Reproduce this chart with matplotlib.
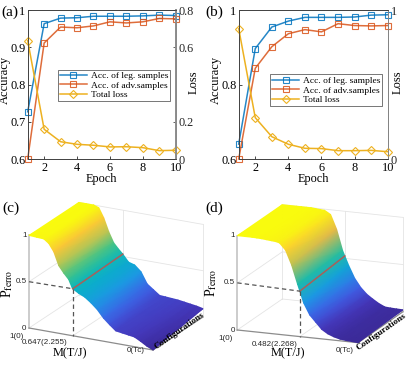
import numpy as np
import matplotlib
matplotlib.use("Agg")
import matplotlib.pyplot as plt
from matplotlib.colors import LinearSegmentedColormap

SERIF = "Liberation Serif"
SANS = "Liberation Sans"
W, H = 407, 365

epochs = [1, 2, 3, 4, 5, 6, 7, 8, 9, 10]

acc_leg_a = [0.727, 0.964, 0.979, 0.980, 0.984, 0.984, 0.984, 0.985, 0.987, 0.986]
acc_adv_a = [0.600, 0.912, 0.955, 0.953, 0.958, 0.969, 0.966, 0.969, 0.978, 0.977]
loss_a = [0.637, 0.160, 0.093, 0.079, 0.074, 0.065, 0.066, 0.061, 0.045, 0.047]

acc_leg_b = [0.640, 0.897, 0.955, 0.971, 0.981, 0.981, 0.981, 0.982, 0.987, 0.988]
acc_adv_b = [0.600, 0.844, 0.902, 0.937, 0.948, 0.942, 0.964, 0.959, 0.958, 0.959]
loss_b = [0.877, 0.278, 0.150, 0.099, 0.072, 0.070, 0.056, 0.056, 0.058, 0.049]

# surface profiles: position along M axis (0 at M=1, 1 at M=0), first/last configuration
m_pos = [0, .06, .12, .16, .2, .24, .28, .32, .35, .4, .45, .5, .55, .6, .65, .7, .75, .8, .85, .9, .95, 1]
front_c = [1, .995, .99, .95, .87, .73, .66, .6, .51, .47, .44, .39, .33, .25, .19, .135, .125, .115, .105, .07, .03, 0]
back_c = [1, 1, 1, .98, .88, .74, .63, .57, .53, .45, .43, .37, .25, .2, .15, .145, .14, .135, .125, .115, .105, .09]
front_d = [1, 1, 1, .998, .995, .99, .985, .98, .97, .9, .75, .55, .36, .24, .17, .1, .06, .035, .018, .01, .005, 0]
back_d = [1, 1, 1, 1, 1, 1, .995, .99, .988, .95, .8, .58, .43, .3, .21, .145, .1, .06, .03, .025, .022, .02]

BLUE = "#0072bd"
ORANGE = "#d95319"
YELLOW = "#edb120"

surf_cmap = LinearSegmentedColormap.from_list("surf", [
    (0.00, "#3b2a98"), (0.10, "#4436b8"), (0.22, "#3f5fe6"), (0.36, "#1e96e6"),
    (0.50, "#06b4c4"), (0.62, "#3cc38a"), (0.72, "#a5c85a"), (0.82, "#f5b445"),
    (0.90, "#fbd030"), (1.00, "#f9fb0e"),
])


def px_axes(fig, left, top, right, bottom):
    return fig.add_axes([left / W, 1 - bottom / H, (right - left) / W, (bottom - top) / H])


def line_panel(fig, box, leg, adv, loss, yticks, lticks, lmax, legend_at, tag, tag_x, label_x, right_lw):
    ax = px_axes(fig, *box)
    ax.plot(epochs, leg, color=BLUE, lw=1.1, marker="s", ms=4, mfc="none", mew=0.8, alpha=0.85, clip_on=False,
            label="Acc. of leg. samples")
    ax.plot(epochs, adv, color=ORANGE, lw=1.1, marker="s", ms=4, mfc="none", mew=0.8, alpha=0.85, clip_on=False,
            label="Acc. of adv.samples")
    ax.set_xlim(1, 10)
    ax.set_ylim(0.6, 1)
    ax.set_xticks([2, 4, 6, 8, 10])
    ax.set_yticks(yticks)
    ax.set_yticklabels([f"{t:g}" for t in yticks])
    ax.tick_params(direction="in", length=2, width=0.5, labelsize=8.8, pad=1.5)
    ax.tick_params(axis="x", pad=2)
    for lab in ax.get_xticklabels() + ax.get_yticklabels():
        lab.set_family(SERIF)

    ax2 = ax.twinx()
    ax2.plot(epochs, loss, color=YELLOW, lw=1.1, marker="D", ms=3.6, mfc="none", mew=0.8, clip_on=False,
             label="Total loss")
    ax2.set_ylim(0, lmax)
    ax2.set_yticks(lticks)
    ax2.set_yticklabels([f"{t:g}" for t in lticks])
    ax2.tick_params(direction="in", length=2, width=0.5, labelsize=8.8, pad=2, colors="#262626")
    for lab in ax2.get_yticklabels():
        lab.set_family(SERIF)
    for a in (ax, ax2):
        for s in a.spines.values():
            s.set_linewidth(0.6)
            s.set_color("#404040")
    ax2.spines["right"].set_linewidth(right_lw)
    ax2.spines["right"].set_color("#8c8c8c")

    handles = ax.get_lines()[:2] + ax2.get_lines()[:1]
    ax2.legend(handles, [h.get_label() for h in handles], loc="lower left", bbox_to_anchor=legend_at,
               bbox_transform=fig.transFigure, prop={"family": SERIF, "size": 6.8},
               frameon=True, fancybox=False, framealpha=1, edgecolor="#404040", borderpad=0.2,
               labelspacing=0.1, handlelength=2.9, handletextpad=0.4, borderaxespad=0).get_frame().set_linewidth(0.5)
    fig.text(tag_x / W, 1 - 12.5 / H, tag, fontsize=11, family=SERIF, ha="left", va="center")
    # axis labels sit closer to the ticks than matplotlib would put them
    mid = (box[0] + box[2]) / 2
    fig.text(label_x[0] / W, 1 - 80 / H, "Accuracy", fontsize=9, family=SERIF, rotation=90, ha="center", va="center")
    fig.text(label_x[1] / W, 1 - 82 / H, "Loss", fontsize=9, family=SERIF, rotation=90, ha="center", va="center")
    fig.text(mid / W, 1 - 179 / H, "Epoch", fontsize=8.8, family=SERIF, ha="center", va="center")


def surface_panel(ax, origin, u, v, w, front, back, m_mark, m_label, tag, tag_xy, labels):
    origin, u, v, w = map(np.asarray, (origin, u, v, w))

    def proj(m, c, p):
        return origin + m * u + c * v + p * w

    def seg(a, b, **kw):
        pa, pb = proj(*a), proj(*b)
        ax.plot([pa[0], pb[0]], [pa[1], pb[1]], **kw)

    grid = dict(color="#e4e4e4", lw=0.6, zorder=1)
    # box edges and grid
    seg((1, 1, 0), (1, 1, 1), **grid)
    seg((m_mark, 1, 0), (m_mark, 1, 1), **grid)
    seg((1, 1, 0.5), (0, 1, 0.5), **grid)
    seg((0, 1, 1), (1, 1, 1), **grid)
    seg((0, 1, 0), (0, 0, 0), **grid)
    seg((0, 1, 0), (0, 1, 1), **grid)
    seg((0, 1, 0), (1, 1, 0), **grid)
    seg((m_mark, 0, 0), (m_mark, 1, 0), **grid)
    seg((0, 0, 0.5), (0, 1, 0.5), **grid)
    seg((0, 0, 0), (0, 0, 1), color="#c4c4c4", lw=1.2, zorder=1.5)
    seg((0, 0, 0), (1, 0, 0), color="#8c8c8c", lw=0.9, zorder=1.5)
    seg((1, 0, 0), (1, 1, 0), color="#8c8c8c", lw=0.9, zorder=1.5)

    mm = np.array(m_pos)
    P = np.array([front, back], dtype=float)
    M = np.vstack([mm, mm])
    C = np.vstack([np.zeros_like(mm), np.ones_like(mm)])
    XY = origin + M[..., None] * u + C[..., None] * v + P[..., None] * w
    ax.pcolormesh(XY[..., 0], XY[..., 1], P, cmap=surf_cmap, vmin=0, vmax=1, shading="gouraud", zorder=2)

    pf = np.interp(m_mark, mm, front)
    pb = np.interp(m_mark, mm, back)
    seg((m_mark, 0, pf), (m_mark, 1, pb), color="#a8605a", lw=1.1, zorder=3)
    dash = dict(color="#555555", lw=0.9, ls=(0, (3.5, 2.5)), zorder=3)
    seg((0, 0, 0.5), (m_mark, 0, pf), **dash)
    seg((m_mark, 0, pf), (m_mark, 0, 0), **dash)

    small = dict(fontsize=5.8, family=SANS, ha="center", va="center", color="#262626")
    for val in (0, 0.5, 1):
        x, y = proj(0, 0, val)
        ax.text(x - 2.5, y, f"{val:g}", **{**small, "ha": "right"})
    ax.text(*labels["one"], "1(0)", **small)
    ax.text(*labels["mark"], m_label, **small)
    ax.text(*labels["tc"], "0(Tc)", **small)

    ax.text(*labels["m"], "M(T/J)", fontsize=8.8, family=SERIF, ha="center", va="center")
    ax.text(*labels["cfg"], "Configurations", fontsize=6.6, family=SERIF, weight="bold", ha="center", va="center",
            rotation=35, rotation_mode="anchor")
    ax.text(*labels["p"], r"P$_{\mathrm{ferro}}$", fontsize=10, family=SERIF, ha="center", va="center", rotation=90,
            math_fontfamily="stix")
    ax.text(*tag_xy, tag, fontsize=11, family=SERIF, ha="left", va="center")


fig = plt.figure(figsize=(W / 100, H / 100), dpi=100)

line_panel(fig, (27.7, 10.3, 175.7, 159), acc_leg_a, acc_adv_a, loss_a,
           [0.6, 0.7, 0.8, 0.9, 1], [0, 0.2, 0.6, 0.8], 0.8, (57.7 / W, 1 - 101 / H), "(a)", 1, (4.5, 194), 1.4)
line_panel(fig, (238.7, 10.3, 387.7, 159), acc_leg_b, acc_adv_b, loss_b,
           [0.6, 0.8, 1], [0, 1], 1, (270 / W, 1 - 106 / H), "(b)", 205, (216, 398), 0.6)

over = fig.add_axes([0, 0, 1, 1])
over.set_xlim(0, W)
over.set_ylim(H, 0)
over.axis("off")
over.patch.set_alpha(0)

surface_panel(over, (29, 328), (124, 22), (50, -33), (0, -92.6), front_c, back_c, 0.353, "0.647(2.255)",
              "(c)", (2, 208),
              dict(one=(17, 337), mark=(45, 342), tc=(136, 350), m=(70, 353), cfg=(179, 331), p=(7, 284)))
surface_panel(over, (237.3, 330), (120.7, 12.7), (45, -31), (0, -94.3), front_d, back_d, 0.518, "0.482(2.268)",
              "(d)", (205, 208),
              dict(one=(226, 339), mark=(275, 345), tc=(344.5, 350), m=(288, 353), cfg=(381, 332), p=(211, 283)))

fig.savefig("out.png", dpi=100)
